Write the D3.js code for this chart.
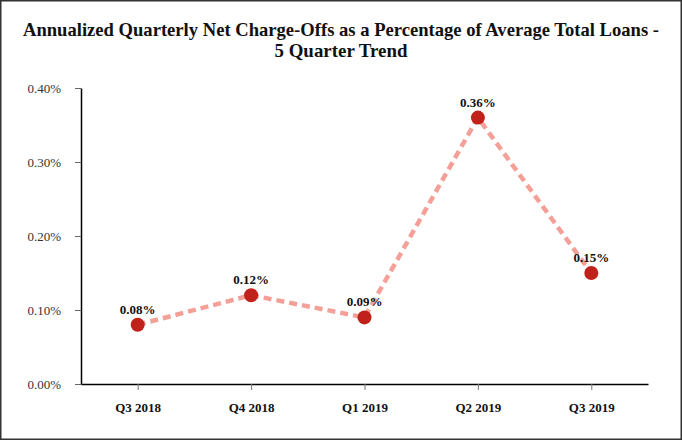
<!DOCTYPE html>
<html><head><meta charset="utf-8">
<script src="https://cdn.jsdelivr.net/npm/d3@7"></script>
<style>html,body{margin:0;padding:0;background:#fff;}svg{display:block;}</style>
</head><body>
<script>
const categories = ["Q3 2018","Q4 2018","Q1 2019","Q2 2019","Q3 2019"];
const values = [0.08, 0.12, 0.09, 0.36, 0.15];
const labels = ["0.08%","0.12%","0.09%","0.36%","0.15%"];
const yTicks = [0, 0.1, 0.2, 0.3, 0.4];
const titleLines = ["Annualized Quarterly Net Charge-Offs as a Percentage of Average Total Loans -","5 Quarter Trend"];

const W = 682, H = 440;
const svg = d3.select("body").append("svg").attr("width", W).attr("height", H)
  .style("font-family", "Liberation Serif, Times New Roman, serif");
svg.append("rect").attr("x",0.75).attr("y",0.75).attr("width",W-1.5).attr("height",H-1.5)
  .attr("fill","#fff").attr("stroke","#333").attr("stroke-width",1.5);

const x = d3.scalePoint().domain(categories).range([81, 648]).padding(0.5);
const y = d3.scaleLinear().domain([0, 0.4]).range([384, 88]);

// title
const tl = svg.append("g").attr("font-weight","bold").attr("font-size",19).attr("fill","#111");
tl.append("text").attr("x",341).attr("y",36).attr("text-anchor","middle")
  .attr("textLength",636).attr("lengthAdjust","spacingAndGlyphs").text(titleLines[0]);
tl.append("text").attr("x",341).attr("y",57).attr("text-anchor","middle")
  .attr("textLength",133).attr("lengthAdjust","spacingAndGlyphs").text(titleLines[1]);

// y axis
const ya = svg.append("g").attr("transform","translate(81,0)")
  .call(d3.axisLeft(y).tickValues(yTicks).tickSize(6).tickSizeOuter(0).tickPadding(14).tickFormat(d => d.toFixed(2) + "%"));
ya.attr("font-family", null).attr("font-size", null);
ya.select(".domain").attr("stroke","#000").attr("stroke-width",1.5);
ya.selectAll(".tick line").attr("stroke","#666");
ya.selectAll("text").attr("font-size",13).attr("fill","#333");

// x axis
const xa = svg.append("g").attr("transform","translate(0,384)")
  .call(d3.axisBottom(x).tickSize(6).tickSizeOuter(0).tickPadding(13));
xa.attr("font-family", null).attr("font-size", null);
xa.select(".domain").attr("stroke","#000").attr("stroke-width",1.5);
xa.selectAll(".tick line").attr("stroke","#777");
xa.selectAll("text").attr("font-size",13).attr("font-weight","bold").attr("fill","#111");

// line
const data = categories.map((c,i)=>({c, v: values[i], l: labels[i]}));
svg.append("path").datum(data)
  .attr("d", d3.line().x(d=>x(d.c)).y(d=>y(d.v)))
  .attr("fill","none").attr("stroke","#f4a098").attr("stroke-width",4.5)
  .attr("stroke-dasharray","8,5");

svg.selectAll("circle.pt").data(data).enter().append("circle")
  .attr("cx",d=>x(d.c)).attr("cy",d=>y(d.v)).attr("r",7).attr("fill","#c0211a");

svg.selectAll("text.lbl").data(data).enter().append("text")
  .attr("x",d=>x(d.c)).attr("y",d=>y(d.v)-11).attr("text-anchor","middle")
  .attr("font-weight","bold").attr("font-size",13).attr("fill","#111")
  .text(d=>d.l);
</script>
</body></html>
